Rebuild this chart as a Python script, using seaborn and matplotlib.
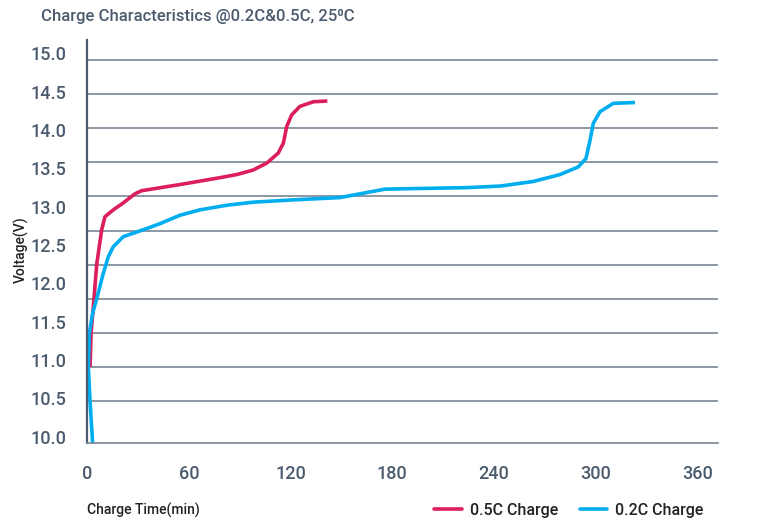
import numpy as np
import pandas as pd
import matplotlib
matplotlib.use("Agg")
import matplotlib.pyplot as plt
import seaborn as sns

# --- data (time in min, voltage in V) ---
t_05c = [1.63, 2.24, 3.95, 5.57, 8.50, 10.42, 15.37, 21.22, 28.19, 32.13,
         54.74, 78.37, 88.17, 97.96, 105.94, 112.70, 115.73, 117.75, 120.68,
         125.53, 133.40, 141.68]
v_05c = [10.91, 11.35, 11.80, 12.25, 12.70, 12.87, 12.96, 13.05, 13.17, 13.21,
         13.29, 13.38, 13.42, 13.48, 13.57, 13.70, 13.83, 14.05, 14.20, 14.31,
         14.37, 14.38]

t_02c = [3.15, 1.63, 0.62, 1.23, 3.15, 5.57, 9.41, 12.44, 15.37, 21.22, 33.04,
         42.93, 54.74, 66.56, 82.31, 97.96, 121.59, 149.15, 175.71, 223.98,
         243.67, 263.26, 279.01, 289.81, 294.36, 296.78, 298.70, 302.64,
         310.51, 323.33]
v_02c = [9.92, 10.46, 10.91, 11.35, 11.61, 11.80, 12.13, 12.35, 12.48, 12.61,
         12.70, 12.78, 12.89, 12.96, 13.02, 13.06, 13.09, 13.12, 13.23, 13.25,
         13.27, 13.33, 13.42, 13.52, 13.63, 13.87, 14.09, 14.24, 14.35, 14.36]

series_names = ["0.5C Charge", "0.2C Charge"]
x_ticks = [0, 60, 120, 180, 240, 300, 360]
y_ticks = [10.0, 10.5, 11.0, 11.5, 12.0, 12.5, 13.0, 13.5, 14.0, 14.5, 15.0]

df = pd.concat([
    pd.DataFrame({"t": t_05c, "v": v_05c, "serie": series_names[0]}),
    pd.DataFrame({"t": t_02c, "v": v_02c, "serie": series_names[1]}),
], ignore_index=True)

# --- estilo ---
sns.set_style("white")
plt.rcParams["font.family"] = ["Roboto", "DejaVu Sans"]
plt.rcParams["font.weight"] = 500

SLATE = "#4b5b6e"
GRID = "#7a8694"
cores = {series_names[0]: "#dc1f5a", series_names[1]: "#00aeef"}

fig = plt.figure(figsize=(7.61, 5.22), dpi=100)
ax = fig.add_axes([0.1147, 0.1519, 0.8288, 0.7715])

# linhas de grade
for gv in np.linspace(14.92, 10.46, 11):
    ax.axhline(gv, color=GRID, lw=1.2, zorder=0)

sns.lineplot(data=df, x="t", y="v", hue="serie", palette=cores, sort=False,
             estimator=None, lw=2.6, ax=ax, legend=False)
for ln in ax.get_lines()[-2:]:
    ln.set_solid_joinstyle("round")
    ln.set_solid_capstyle("butt")

ax.set_xticks(x_ticks)
ax.set_yticks(y_ticks)
ax.set_yticklabels([f"{v:.1f}" for v in y_ticks])
ax.set_xlim(0, 372.3)
ax.set_ylim(9.922, 15.176)
ax.tick_params(axis="y", length=0, pad=15, labelsize=13, labelcolor=SLATE)
ax.tick_params(axis="x", length=0, pad=16, labelsize=13, labelcolor=SLATE)
ax.set_xlabel("")
ax.set_ylabel("")

for s in ["top", "right"]:
    ax.spines[s].set_visible(False)
ax.spines["left"].set_color(SLATE)
ax.spines["left"].set_linewidth(1.6)
ax.spines["bottom"].set_color(GRID)
ax.spines["bottom"].set_linewidth(1.2)

fig.text(41 / 761, 1 - 16 / 522, "Charge Characteristics @0.2C&0.5C, 25⁰C",
         ha="left", va="center", fontsize=12, color=SLATE)
fig.text(21 / 761, 1 - 250 / 522, "Voltage(V)", rotation=90,
         ha="center", va="center", fontsize=10, color="#222222")
fig.text(87 / 761, 1 - 510 / 522, "Charge Time(min)",
         ha="left", va="center", fontsize=10, color="#222222")

handles = [plt.Line2D([], [], color=cores[n], lw=2.6) for n in series_names]
fig.legend(handles, series_names, loc="center right", ncol=2,
           bbox_to_anchor=(718 / 761, 1 - 510 / 522), frameon=False,
           fontsize=11.5, handlelength=1.7, handletextpad=0.5, columnspacing=1.4,
           labelcolor="#222222")

fig.savefig("out.png", dpi=100)
